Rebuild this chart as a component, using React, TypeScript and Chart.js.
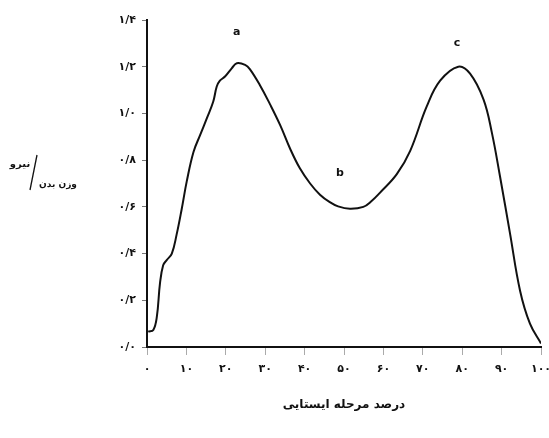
import React, { useEffect, useRef } from 'react';
import { Chart, registerables } from 'chart.js';

Chart.register(...registerables);

const stancePercent = [0.3, 1.6, 2.5, 3.3, 4.1, 5.0, 6.3, 7.5, 8.8, 10.1, 11.8, 13.5, 15.2, 16.8, 17.7, 18.5, 19.8, 21.5, 22.8, 24.9, 26.1, 28.7, 31.2, 33.8, 36.3, 38.8, 41.4, 43.9, 46.4, 48.5, 51.5, 54.9, 57, 59.1, 63.4, 66.8, 71, 74.4, 79, 82, 85.4, 87.5, 89.6, 92.1, 94.7, 97.2, 100];
const forceRatio = [0.066, 0.073, 0.13, 0.273, 0.35, 0.372, 0.4, 0.48, 0.59, 0.71, 0.835, 0.908, 0.98, 1.05, 1.115, 1.14, 1.158, 1.193, 1.215, 1.208, 1.19, 1.12, 1.04, 0.95, 0.85, 0.765, 0.7, 0.652, 0.62, 0.602, 0.592, 0.6, 0.625, 0.66, 0.74, 0.84, 1.03, 1.14, 1.2, 1.17, 1.06, 0.92, 0.73, 0.49, 0.24, 0.1, 0.015];

const yTickLabels = ['۰/۰', '۰/۲', '۰/۴', '۰/۶', '۰/۸', '۱/۰', '۱/۲', '۱/۴'];
const xTickLabels = ['۰', '۱۰', '۲۰', '۳۰', '۴۰', '۵۰', '۶۰', '۷۰', '۸۰', '۹۰', '۱۰۰'];

const peakLabels = ['a', 'b', 'c'];
const peakX = [22.8, 49, 78.7];
const peakY = [1.35, 0.745, 1.3];

const xTitle = 'درصد مرحله ایستایی';
const yTitleTop = 'نیرو';
const yTitleBottom = 'وزن بدن';

const FONT = '"DejaVu Sans", sans-serif';

export default function App() {
  const ref = useRef<HTMLCanvasElement>(null);

  useEffect(() => {
    document.body.style.margin = '0';
    if (!ref.current) return;

    const textPlugin = {
      id: 'extraText',
      afterDraw(chart: any) {
        const { ctx, chartArea } = chart;
        const xs = chart.scales.x;
        const ys = chart.scales.y;
        ctx.save();
        ctx.fillStyle = '#111';
        ctx.textAlign = 'center';
        ctx.textBaseline = 'middle';
        ctx.font = `bold 11px ${FONT}`;
        peakLabels.forEach((l, i) => {
          ctx.fillText(l, xs.getPixelForValue(peakX[i]), ys.getPixelForValue(peakY[i]));
        });
        ctx.direction = 'rtl';
        ctx.font = `bold 12px ${FONT}`;
        ctx.fillText(xTitle, (chartArea.left + chartArea.right) / 2, chartArea.bottom + 58);
        ctx.font = `bold 10px ${FONT}`;
        ctx.fillText(yTitleTop, 20, 164);
        ctx.font = `bold 9px ${FONT}`;
        ctx.fillText(yTitleBottom, 58, 185);
        ctx.strokeStyle = '#111';
        ctx.lineWidth = 1.3;
        ctx.beginPath();
        ctx.moveTo(37, 155);
        ctx.lineTo(30, 190);
        ctx.stroke();
        ctx.restore();
      },
    };

    const chart = new Chart(ref.current, {
      type: 'line',
      data: {
        datasets: [
          {
            data: stancePercent.map((x, i) => ({ x, y: forceRatio[i] })),
            borderColor: '#111',
            borderWidth: 2,
            pointRadius: 0,
            tension: 0.4,
            fill: false,
          },
        ],
      },
      options: {
        responsive: false,
        animation: false,
        layout: { padding: { top: 20, right: 8, left: 0, bottom: 0 } },
        plugins: { legend: { display: false }, tooltip: { enabled: false } },
        scales: {
          x: {
            type: 'linear',
            min: 0,
            max: 100,
            ticks: {
              stepSize: 10,
              callback: (v: any) => xTickLabels[Math.round(Number(v) / 10)],
              font: { family: FONT, size: 11, weight: 'bold' },
              color: '#111',
              padding: 8,
              maxRotation: 0,
            },
            grid: { drawOnChartArea: false, drawTicks: true, tickLength: 8, color: '#aaa' },
            border: { color: '#111', width: 2 },
            afterFit: (s: any) => {
              s.height = 91;
              s.paddingLeft = 0;
              s.paddingRight = 0;
            },
          },
          y: {
            min: 0,
            max: 1.4,
            ticks: {
              stepSize: 0.2,
              callback: (v: any) => yTickLabels[Math.round(Number(v) / 0.2)],
              font: { family: FONT, size: 11, weight: 'bold' },
              color: '#111',
              padding: 6,
            },
            grid: { drawOnChartArea: false, drawTicks: true, tickLength: 5, color: '#777' },
            border: { color: '#111', width: 2 },
            afterFit: (s: any) => {
              s.width = 147;
              s.paddingTop = 0;
              s.paddingBottom = 0;
            },
          },
        },
      },
      plugins: [textPlugin],
    } as any);

    return () => chart.destroy();
  }, []);

  return <canvas ref={ref} width={549} height={438} style={{ display: 'block' }} />;
}
